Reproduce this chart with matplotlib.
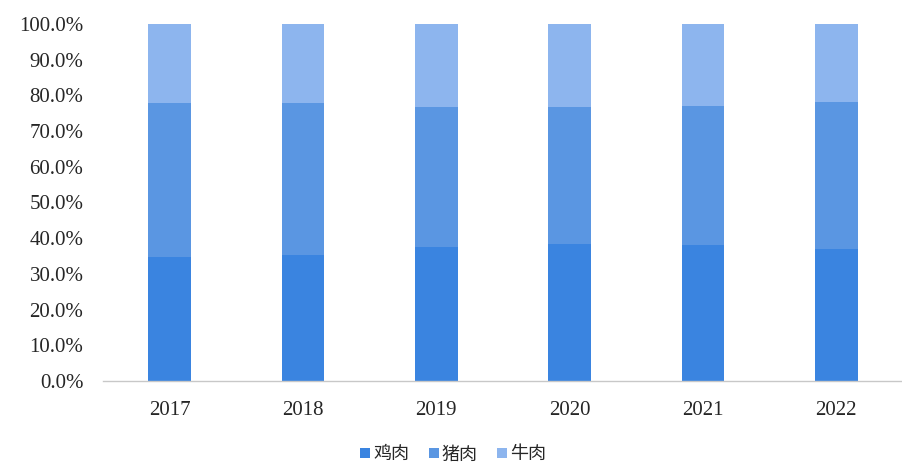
import matplotlib
matplotlib.use('Agg')
import matplotlib.pyplot as plt
import numpy as np

# ── Data (share of consumption, %) ────────────────────────────────────────────
years   = ['2017', '2018', '2019', '2020', '2021', '2022']
chicken = [34.6, 35.2, 37.6, 38.4, 38.1, 37.1]   # 鸡肉
pork    = [43.1, 42.5, 39.2, 38.4, 38.9, 41.1]   # 猪肉
beef    = [22.3, 22.3, 23.2, 23.2, 23.0, 21.8]   # 牛肉
labels  = ['鸡肉', '猪肉', '牛肉']
yticks  = [0, 10, 20, 30, 40, 50, 60, 70, 80, 90, 100]

# ── Style ─────────────────────────────────────────────────────────────────────
C_CHICKEN = '#3A84E0'
C_PORK    = '#5A96E2'
C_BEEF    = '#8DB5EE'
TXT       = '#262626'
AXIS      = '#C8C8C8'

fig = plt.figure(figsize=(9.03, 4.67), dpi=100)
ax = fig.add_axes([0.114, 0.184, 0.886, 0.765])

x = np.arange(len(years))
w = 0.32
b1 = ax.bar(x, chicken, w, color=C_CHICKEN, label=labels[0])
b2 = ax.bar(x, pork, w, bottom=chicken, color=C_PORK, label=labels[1])
b3 = ax.bar(x, beef, w, bottom=np.add(chicken, pork), color=C_BEEF, label=labels[2])

ax.set_xlim(-0.5, len(years) - 0.5)
ax.set_ylim(0, 100)
ax.set_yticks(yticks)
ax.set_yticklabels([f'{v:.1f}%' for v in yticks])
ax.set_xticks(x)
ax.set_xticklabels(years)

for lab in ax.get_xticklabels() + ax.get_yticklabels():
    lab.set_family('Liberation Serif')
    lab.set_fontsize(15)
    lab.set_color(TXT)

ax.tick_params(axis='y', length=0, pad=14)
ax.tick_params(axis='x', length=0, pad=14)
for s in ('top', 'right', 'left'):
    ax.spines[s].set_visible(False)
ax.spines['bottom'].set_color(AXIS)
ax.spines['bottom'].set_linewidth(1.0)

fig.legend(handles=[b1, b2, b3], loc='center', bbox_to_anchor=(0.502, 0.027),
           ncol=3, frameon=False, handlelength=0.55, handleheight=0.55,
           handletextpad=0.15, columnspacing=1.1,
           prop={'family': ['Noto Sans CJK SC', 'DejaVu Sans'], 'size': 13},
           labelcolor=TXT)

fig.savefig('out.png', dpi=100)
